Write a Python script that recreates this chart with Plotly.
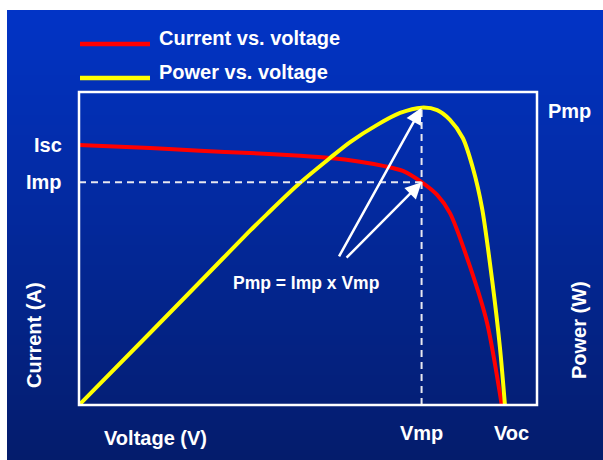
import plotly.graph_objects as go

# ---- data (in percent of axis range) ----
current_voltage = [0, 15.5, 26.4, 37.3, 48.3, 54.8, 61.0, 66.4, 70.7, 74.8, 78.2, 81.0, 85.4, 89.1, 92.3]
current_values = [83.1, 82.1, 81.2, 80.5, 79.6, 78.9, 77.8, 76.4, 74.8, 71.2, 67.1, 61.3, 44.1, 26.2, 0]
power_voltage = [0, 15.5, 26.4, 37.3, 41.0, 48.2, 54.8, 59.2, 65.1, 70.1, 74.8, 78.2, 81.0, 83.8, 86.0, 88.0, 90.2, 91.9, 93.0]
power_values = [0, 23.0, 39.3, 55.6, 60.9, 70.9, 78.9, 84.0, 89.5, 93.3, 95.0, 94.2, 91.1, 85.3, 75.7, 62.9, 39.9, 18.5, 0]
series_names = ["Current vs. voltage", "Power vs. voltage"]
Vmp, Imp, Pmp, Isc, Voc = 74.8, 71.2, 95.0, 83.1, 92.6
arrow_tails = [(56.6, 47.0), (58.1, 46.6)]

W, H = 603, 460
FONT = "Liberation Sans, Arial, sans-serif"
RED, YELLOW = "#ff0000", "#ffff00"

def px_x(x):
    return x / W

def px_y(y):
    return 1 - y / H

fig = go.Figure()
fig.add_trace(go.Scatter(x=current_voltage, y=current_values, mode="lines",
                         line=dict(color=RED, width=4, shape="spline", smoothing=0.8),
                         name=series_names[0], hoverinfo="skip"))
fig.add_trace(go.Scatter(x=power_voltage, y=power_values, mode="lines",
                         line=dict(color=YELLOW, width=4, shape="spline", smoothing=0.8),
                         name=series_names[1], hoverinfo="skip"))

shapes = []
# gradient background
top_c = (2, 52, 198)
bot_c = (4, 28, 108)
n = 90
y0, y1 = 10, H
for i in range(n):
    t = i / (n - 1)
    c = tuple(int(round(top_c[k] + (bot_c[k] - top_c[k]) * t)) for k in range(3))
    ya = y0 + (y1 - y0) * i / n
    yb = y0 + (y1 - y0) * (i + 1) / n + 0.6
    shapes.append(dict(type="rect", xref="paper", yref="paper", layer="below",
                       x0=px_x(7), x1=1, y0=px_y(min(yb, H)), y1=px_y(ya),
                       fillcolor="rgb(%d,%d,%d)" % c, line=dict(width=0)))
# dashed guide lines
shapes.append(dict(type="line", xref="x", yref="y", x0=0, x1=Vmp, y0=Imp, y1=Imp,
                   line=dict(color="#e8e8f0", width=2, dash="7px,5px")))
shapes.append(dict(type="line", xref="x", yref="y", x0=Vmp, x1=Vmp, y0=0, y1=Pmp,
                   line=dict(color="#e8e8f0", width=2, dash="7px,5px")))
# plot box
shapes.append(dict(type="rect", xref="x domain", yref="y domain", x0=0, x1=1, y0=0, y1=1,
                   line=dict(color="white", width=2.5)))
# legend lines
shapes.append(dict(type="line", xref="paper", yref="paper", x0=px_x(80), x1=px_x(150),
                   y0=px_y(44), y1=px_y(44), line=dict(color=RED, width=4.5)))
shapes.append(dict(type="line", xref="paper", yref="paper", x0=px_x(80), x1=px_x(150),
                   y0=px_y(78), y1=px_y(78), line=dict(color=YELLOW, width=4.5)))

def txt(text, x, y, size=20, xanchor="center", textangle=0, xref="paper", yref="paper", xshift=0):
    return dict(text="<b>%s</b>" % text, x=x, y=y, xref=xref, yref=yref, showarrow=False,
                xanchor=xanchor, yanchor="middle", textangle=textangle, xshift=xshift,
                font=dict(family=FONT, size=size, color="white"))

ann = [
    txt(series_names[0], px_x(157), px_y(38), xanchor="left"),
    txt(series_names[1], px_x(157), px_y(72), xanchor="left"),
    txt("Isc", px_x(48), Isc, yref="y"),
    txt("Imp", px_x(44), Imp, yref="y"),
    txt("Pmp", px_x(569), px_y(111)),
    txt("Current (A)", px_x(34), px_y(335), textangle=-90),
    txt("Power (W)", px_x(579), px_y(330), textangle=-90),
    txt("Voltage (V)", px_x(155), px_y(438)),
    txt("Vmp", Vmp, px_y(433), xref="x"),
    txt("Voc", Voc, px_y(433), xref="x", xshift=8),
    txt("Pmp = Imp x Vmp", px_x(306), px_y(283), size=17.5),
]
for (tx, ty), (hx, hy) in zip(arrow_tails, [(Vmp, Pmp), (Vmp, Imp)]):
    ann.append(dict(x=hx, y=hy, ax=tx, ay=ty, xref="x", yref="y", axref="x", ayref="y",
                    showarrow=True, arrowhead=2, arrowsize=1.3, arrowwidth=2.5,
                    arrowcolor="white", text=""))

fig.update_layout(
    width=W, height=H, autosize=False,
    margin=dict(l=0, r=0, t=0, b=0),
    paper_bgcolor="white", plot_bgcolor="rgba(0,0,0,0)",
    showlegend=False,
    xaxis=dict(domain=[px_x(79), px_x(537)], range=[0, 100], visible=False, fixedrange=True),
    yaxis=dict(domain=[px_y(405), px_y(92)], range=[0, 100], visible=False, fixedrange=True),
    shapes=shapes, annotations=ann,
)
fig.write_html("out.html", config={"displayModeBar": False},
               post_script="document.body.style.margin='0';document.body.style.overflow='hidden';")
